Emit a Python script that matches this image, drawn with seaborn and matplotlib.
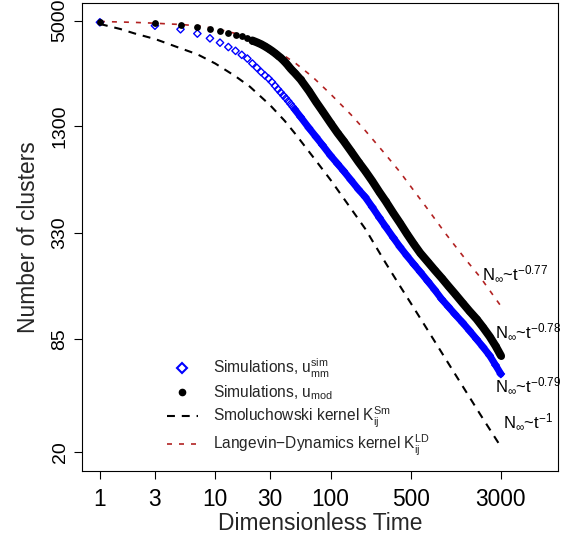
import matplotlib
matplotlib.use("Agg")
import matplotlib.pyplot as plt
import seaborn as sns
import pandas as pd
from matplotlib.lines import Line2D
from matplotlib.ticker import NullLocator

# simulation with modified mobility (black dots)
t_mod = [1, 3, 5, 7, 9, 11, 13, 15, 17, 19, 21, 23, 25, 27, 29, 31, 33, 35, 37, 39,
         41, 43, 45, 47, 49, 55, 65, 75, 85, 100, 115, 130, 150, 175, 200, 230, 265,
         300, 350, 400, 460, 530, 600, 700, 800, 920, 1050, 1200, 1400, 1600, 1850,
         2100, 2400, 2700, 3000]
n_mod = [4900, 4840, 4710, 4630, 4490, 4380, 4280, 4180, 4090, 3990, 3880, 3790, 3700,
         3600, 3500, 3400, 3300, 3200, 3110, 3010, 2910, 2810, 2710, 2630, 2560, 2357,
         2034, 1767, 1575, 1351, 1189, 1073, 944, 820, 731, 643, 559, 498, 427, 376,
         327, 286, 256, 228, 206, 186, 168, 152, 135, 122, 110, 99, 88, 78, 69]

# simulation with u_mm (blue diamonds)
t_mm = t_mod
n_mm = [4900, 4690, 4480, 4240, 3990, 3775, 3570, 3400, 3230, 3080, 2892, 2737, 2594,
        2481, 2387, 2282, 2175, 2079, 1996, 1920, 1853, 1786, 1723, 1663, 1606, 1459,
        1267, 1129, 1020, 891, 802, 731, 652, 577, 524, 461, 403, 359, 312, 277, 247,
        221, 201, 178, 160, 142, 129, 117, 105, 95, 85, 77, 69, 61, 54.5]

# kernel solutions
t_line = [1, 1.5, 2, 3, 4, 5, 7, 10, 15, 20, 30, 40, 50, 70, 100, 150, 200, 300, 400,
          500, 700, 1000, 1500, 2000, 3000]
n_smol = [4795, 4497, 4246, 3957, 3702, 3513, 3253, 2892, 2455, 2149, 1694, 1390, 1166,
          881, 653, 453, 349, 226, 168, 134, 95, 65.8, 43.4, 32.3, 21.5]
n_ld = [4950, 4918, 4893, 4843, 4795, 4764, 4686, 4527, 4246, 3983, 3545, 3184, 2892,
        2434, 1958, 1506, 1227, 903, 722, 596, 447, 327, 234, 187, 130]

x_ticks = [1, 3, 10, 30, 100, 500, 3000]
y_ticks = [20, 85, 330, 1300, 5000]

fits = [("N$_{\\mathrm{∞}}$~t$^{\\mathrm{−0.77}}$", 2050, 181),
        ("N$_{\\mathrm{∞}}$~t$^{\\mathrm{−0.78}}$", 2650, 86),
        ("N$_{\\mathrm{∞}}$~t$^{\\mathrm{−0.79}}$", 2650, 43.4),
        ("N$_{\\mathrm{∞}}$~t$^{\\mathrm{−1}}$", 3155, 27.2)]

sns.set_theme(style="ticks")
plt.rcParams['font.family'] = ['Liberation Sans', 'DejaVu Sans']
plt.rcParams['mathtext.fontset'] = 'custom'
plt.rcParams['mathtext.rm'] = 'Liberation Sans'
plt.rcParams['mathtext.it'] = 'Liberation Sans:italic'
plt.rcParams['mathtext.bf'] = 'Liberation Sans:bold'

mod = pd.DataFrame({'t': t_mod, 'n': n_mod})
mm = pd.DataFrame({'t': t_mm, 'n': n_mm})
kern = pd.DataFrame({'t': t_line, 'smol': n_smol, 'ld': n_ld})

fig = plt.figure(figsize=(5.72, 5.43), dpi=100)
ax = fig.add_axes([82.4 / 572, 1 - 471 / 543, (558 - 82.4) / 572, (471 - 3) / 543])

red = '#B22222'
smol_ls = (0, (3.8, 3.3))
ld_ls = (0, (3.0, 4.2))

sns.lineplot(data=kern, x='t', y='smol', ax=ax, color='black', lw=1.5, linestyle=smol_ls)
sns.lineplot(data=kern, x='t', y='ld', ax=ax, color=red, lw=1.2, linestyle=ld_ls)

sns.lineplot(data=mm[mm.t >= 49], x='t', y='n', ax=ax, color='blue', lw=5,
             solid_capstyle='round')
sns.scatterplot(data=mm, x='t', y='n', ax=ax, marker='D', s=14, fc='none',
                ec='blue', linewidth=1, zorder=3)
sns.lineplot(data=mod[mod.t >= 21], x='t', y='n', ax=ax, color='black', lw=5.8,
             solid_capstyle='round', zorder=4)
sns.scatterplot(data=mod, x='t', y='n', ax=ax, marker='o', s=24, color='black',
                linewidth=0, zorder=4)

ax.set_xscale('log')
ax.set_yscale('log')
ax.set_xlim(10 ** -0.152, 10 ** 3.973)
ax.set_ylim(10 ** 1.1973, 10 ** 3.7973)
ax.set_xticks(x_ticks)
ax.set_xticklabels([str(v) for v in x_ticks])
ax.set_yticks(y_ticks)
ax.set_yticklabels([str(v) for v in y_ticks], rotation=90, va='center')
ax.xaxis.set_minor_locator(NullLocator())
ax.yaxis.set_minor_locator(NullLocator())
ax.tick_params(axis='both', direction='out', length=6, width=0.8,
               color='black', labelcolor='black')
ax.tick_params(axis='x', pad=6, labelsize=16.4)
ax.tick_params(axis='y', pad=4, labelsize=14)
for sp in ax.spines.values():
    sp.set_visible(True)
    sp.set_color('black')
    sp.set_linewidth(0.8)

ax.set_xlabel('Dimensionless Time', fontsize=16.4, labelpad=1)
ax.set_ylabel('Number of clusters', fontsize=16.4, labelpad=8)

for txt, tx, ty in fits:
    ax.text(tx, ty, txt, fontsize=12, ha='left', va='baseline', color='black')

handles = [
    Line2D([], [], marker='D', mfc='none', mec='blue', mew=1.5, ms=5.5, ls='none'),
    Line2D([], [], marker='o', color='black', ms=4.5, ls='none'),
    Line2D([], [], color='black', lw=1.5, ls=smol_ls),
    Line2D([], [], color=red, lw=1.2, ls=ld_ls),
]
labels = [
    "Simulations, u$_{\\mathrm{mm}}^{\\mathrm{sim}}$",
    "Simulations, u$_{\\mathrm{mod}}$",
    "Smoluchowski kernel K$_{\\mathrm{ij}}^{\\mathrm{Sm}}$",
    "Langevin−Dynamics kernel K$_{\\mathrm{ij}}^{\\mathrm{LD}}$",
]
ax.legend(handles, labels, loc='center left', bbox_to_anchor=(0.177, 0.136),
          frameon=False, fontsize=11.2, borderpad=0, borderaxespad=0,
          handlelength=2.0, handletextpad=1.0, labelspacing=0.2)

fig.savefig('out.png', dpi=100)
